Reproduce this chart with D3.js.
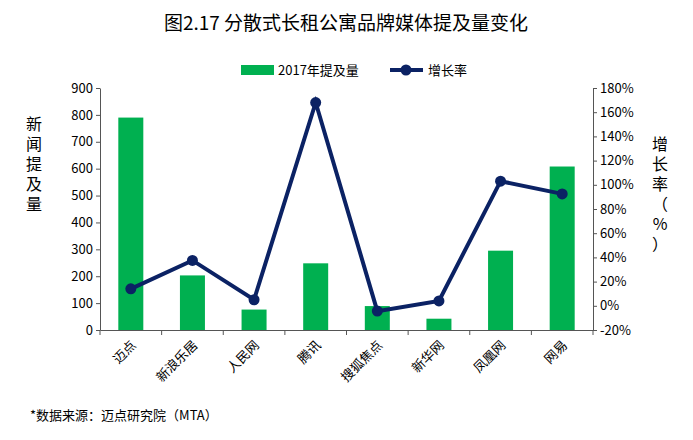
<!DOCTYPE html><html><head><meta charset="utf-8"><script src="https://cdn.jsdelivr.net/npm/d3@7"></script>
<style>body{margin:0;background:#fff}text{font-family:"Noto Sans CJK SC","Noto Sans",sans-serif}</style></head><body><svg id="c" width="693" height="440"></svg><script>
const categories=["迈点","新浪乐居","人民网","腾讯","搜狐焦点","新华网","凤凰网","网易"];
const mentions=[790,203,76,248,89,42,295,608];
const growth=[14,37.5,5,168,-4.4,4,103,92.5];
const leftTicks=[0,100,200,300,400,500,600,700,800,900];
const rightTicks=[-20,0,20,40,60,80,100,120,140,160,180];
const svg=d3.select("#c");
const L=100,R=593,T=88,B=330;
const xb=d3.scaleBand().domain(categories).range([L,R]);
const y=d3.scaleLinear().domain([0,900]).range([B,T]);
const y2=d3.scaleLinear().domain([-20,180]).range([B,T]);
svg.append("text").attr("x",346).attr("y",30).attr("text-anchor","middle").attr("font-size",19).text("图2.17 分散式长租公寓品牌媒体提及量变化");
svg.selectAll(".bar").data(categories).enter().append("rect").attr("x",d=>xb(d)+xb.bandwidth()/2-12.5).attr("width",25)
 .attr("y",(d,i)=>y(mentions[i])).attr("height",(d,i)=>B-y(mentions[i])).attr("fill","#00b050");
const ax=svg.append("g").attr("transform",`translate(${L},0)`).call(d3.axisLeft(y).tickValues(leftTicks).tickSize(4).tickSizeOuter(0));
const ar=svg.append("g").attr("transform",`translate(${R},0)`).call(d3.axisRight(y2).tickValues(rightTicks).tickFormat(d=>d+"%").tickSize(4).tickSizeOuter(0));
const ab=svg.append("g").attr("transform",`translate(0,${B})`).call(d3.axisBottom(xb).tickSize(5).tickSizeOuter(0).tickFormat(""));
ab.selectAll(".tick").attr("transform",d=>`translate(${xb(d)},0)`);
ab.append("line").attr("x1",R).attr("x2",R).attr("y1",0).attr("y2",5).attr("stroke","#000");
[ax,ar,ab].forEach(g=>{g.selectAll("path,line").attr("stroke","#555");g.selectAll("text").attr("font-size",13).attr("fill","#000").attr("font-family","Noto Sans, sans-serif")});
categories.forEach(c=>{const cx=xb(c)+xb.bandwidth()/2;svg.append("text").attr("transform",`translate(${cx+6},${B+16}) rotate(-45)`).attr("text-anchor","end").attr("font-size",13).text(c)});
const line=d3.line().x((d,i)=>xb(categories[i])+xb.bandwidth()/2).y(d=>y2(d));
svg.append("path").attr("d",line(growth)).attr("fill","none").attr("stroke","#0b2264").attr("stroke-width",4);
svg.selectAll(".pt").data(growth).enter().append("circle").attr("cx",(d,i)=>xb(categories[i])+xb.bandwidth()/2).attr("cy",d=>y2(d)).attr("r",5.5).attr("fill","#0b2264");
["新","闻","提","及","量"].forEach((t,i)=>svg.append("text").attr("x",34).attr("y",130+i*20).attr("text-anchor","middle").attr("font-size",16).text(t));
["增","长","率","（","%","）"].forEach((t,i)=>svg.append("text").attr("x",660).attr("y",150+i*20).attr("text-anchor","middle").attr("font-size",16).text(t));
svg.append("rect").attr("x",241).attr("y",65).attr("width",33).attr("height",10).attr("fill","#00b050");
svg.append("text").attr("x",278).attr("y",75).attr("font-size",13).text("2017年提及量");
svg.append("line").attr("x1",390).attr("x2",423).attr("y1",70).attr("y2",70).attr("stroke","#0b2264").attr("stroke-width",4);
svg.append("circle").attr("cx",406).attr("cy",70).attr("r",5.5).attr("fill","#0b2264");
svg.append("text").attr("x",428).attr("y",75).attr("font-size",13).text("增长率");
svg.append("text").attr("x",30).attr("y",420).attr("font-size",13).text("*数据来源：迈点研究院（MTA）");
</script></body></html>
